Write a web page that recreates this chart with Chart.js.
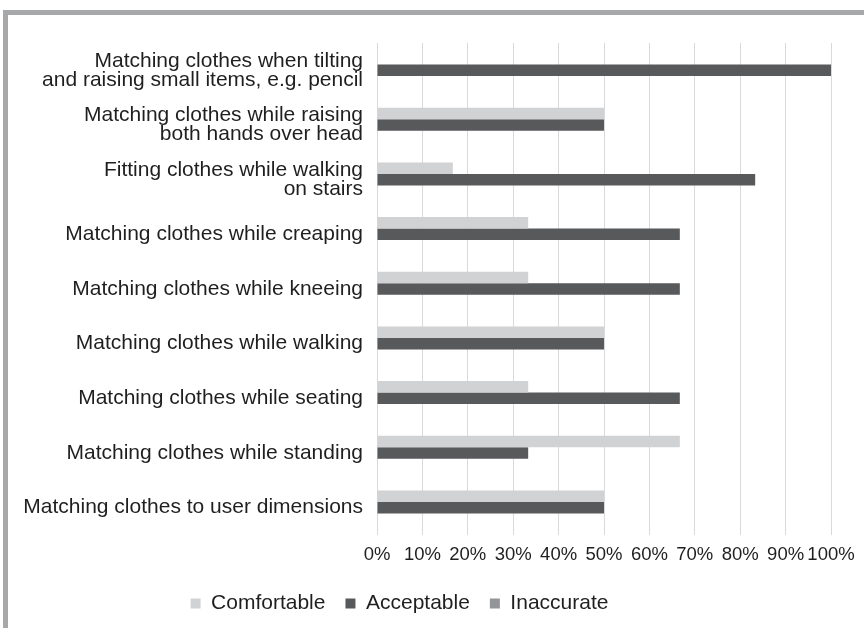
<!DOCTYPE html>
<html>
<head>
<meta charset="utf-8">
<script src="https://cdn.jsdelivr.net/npm/chart.js@4/dist/chart.umd.min.js"></script>
<style>
  html, body { margin: 0; padding: 0; background: #fff; }
  #wrap { position: relative; width: 864px; height: 628px; overflow: hidden; }
  #frame { position: absolute; left: 3px; top: 10px; width: 900px; height: 700px;
           border-top: 5px solid #a7a8aa; border-left: 5px solid #a7a8aa; }
  canvas { position: absolute; left: 0; top: 0; }
</style>
</head>
<body>
<div id="wrap">
  <div id="frame"></div>
  <canvas id="chart" width="864" height="628"></canvas>
</div>
<script>
// catégories (de haut en bas)
const categories = [
    ['Matching clothes when tilting', 'and raising small items, e.g. pencil'],
    ['Matching clothes while raising', 'both hands over head'],
    ['Fitting clothes while walking', 'on stairs'],
    'Matching clothes while creaping',
    'Matching clothes while kneeing',
    'Matching clothes while walking',
    'Matching clothes while seating',
    'Matching clothes while standing',
    'Matching clothes to user dimensions'
];

const comfortable = [0, 50, 16.7, 33.3, 33.3, 50, 33.3, 66.7, 50];
const acceptable  = [100, 50, 83.3, 66.7, 66.7, 50, 66.7, 33.3, 50];
const inaccurate  = [0, 0, 0, 0, 0, 0, 0, 0, 0];

const xTicks = [0, 10, 20, 30, 40, 50, 60, 70, 80, 90, 100];

const family = 'Liberation Sans, Arial, sans-serif';
const labelFont = { family: family, size: 21, lineHeight: 0.9 };
const tickFont = { family: family, size: 18.5 };
const legendFont = { family: family, size: 21 };
const textColor = '#1f1f1f';

// décale la légende un peu vers la gauche, comme dans l'original
const legendShift = {
    id: 'legendShift',
    afterLayout(chart) {
        chart.legend.left -= 16;
        chart.legend.right -= 16;
    }
};

new Chart(document.getElementById('chart'), {
    type: 'bar',
    data: {
        labels: categories,
        datasets: [
            { label: 'Comfortable', data: comfortable, backgroundColor: '#d1d2d4' },
            { label: 'Acceptable', data: acceptable, backgroundColor: '#58595b' },
            { label: 'Inaccurate', data: inaccurate, backgroundColor: '#939598' }
        ]
    },
    plugins: [legendShift],
    options: {
        indexAxis: 'y',
        responsive: false,
        animation: false,
        categoryPercentage: 0.63,
        barPercentage: 1,
        layout: { padding: { left: 0, right: 33, top: 43, bottom: 4 } },
        plugins: {
            tooltip: { enabled: false },
            legend: {
                position: 'bottom',
                labels: {
                    font: legendFont,
                    color: textColor,
                    boxWidth: 10,
                    boxHeight: 10,
                    padding: 20
                }
            }
        },
        scales: {
            x: {
                min: 0,
                max: 100,
                afterBuildTicks: s => { s.ticks = xTicks.map(v => ({ value: v })); },
                afterFit: s => { s.height = 38; },
                ticks: {
                    font: tickFont,
                    color: textColor,
                    padding: 9,
                    maxRotation: 0,
                    autoSkip: false,
                    callback: v => v + '%'
                },
                grid: { color: '#d9d9d9', lineWidth: 1, drawTicks: false },
                border: { display: false }
            },
            y: {
                afterFit: s => { s.width = 377; },
                ticks: {
                    font: labelFont,
                    color: textColor,
                    padding: 14,
                    autoSkip: false
                },
                grid: { display: false, drawTicks: false },
                border: { display: false }
            }
        }
    }
});
</script>
</body>
</html>
